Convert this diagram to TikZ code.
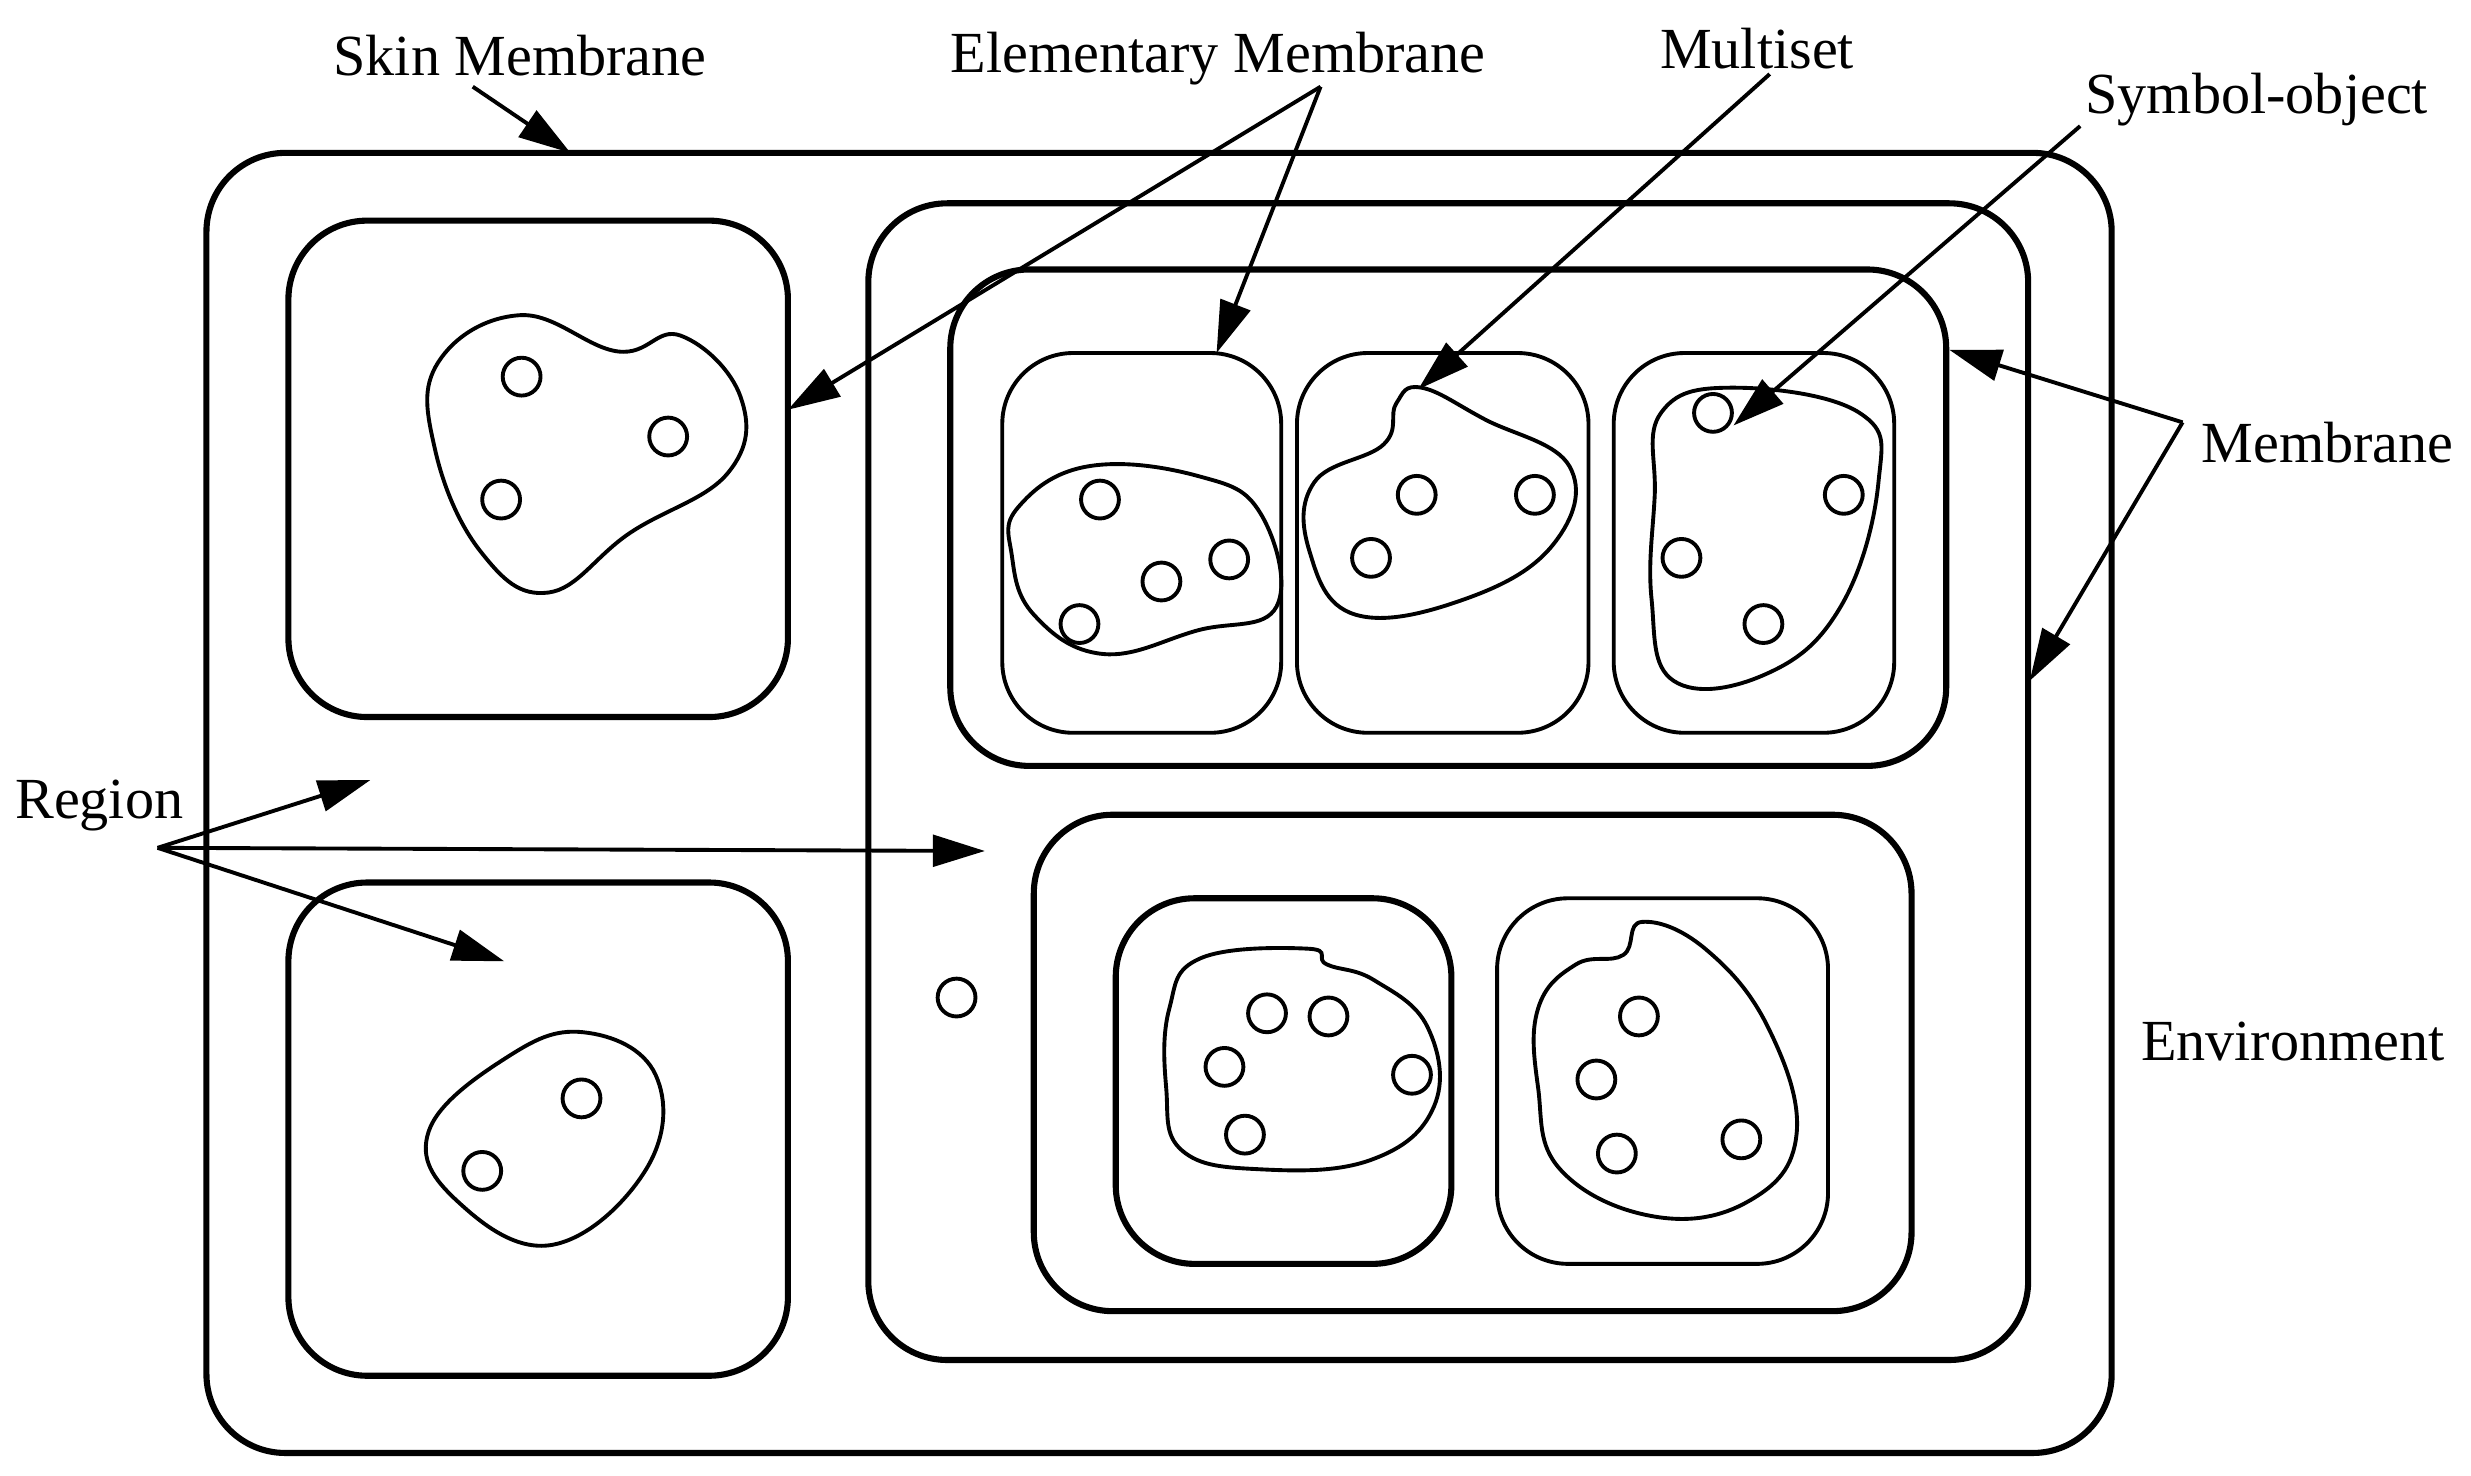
\documentclass[tikz,border=0pt]{standalone}
\usepackage{fontspec}
\setmainfont{Liberation Serif}
\usetikzlibrary{arrows.meta}
\begin{document}
\begin{tikzpicture}[x=0.01cm,y=-0.01cm,
  thickbox/.style={line width=1.1pt,rounded corners=0.5cm},
  thinbox/.style={line width=0.7pt,rounded corners=0.45cm},
  blob/.style={line width=0.7pt},
  obj/.style={circle,draw,line width=0.7pt,minimum size=0.24cm,inner sep=0pt},
  lbl/.style={font=\fontsize{10.5}{12}\selectfont,inner sep=1pt},
  arr/.style={line width=0.7pt,-{Triangle[length=0.33cm,width=0.2cm]}}]
\useasboundingbox (0,0) rectangle (1568,936);
% membranes
\draw[thickbox] (131,97) rectangle (1340,922);
\draw[thickbox] (183,140) rectangle (500,455);
\draw[thickbox] (183,560) rectangle (500,873);
\draw[thickbox] (551,129) rectangle (1287,863);
\draw[thickbox] (603,171) rectangle (1235,486);
\draw[thinbox] (636,224) rectangle (813,465);
\draw[thinbox] (823,224) rectangle (1008,465);
\draw[thinbox] (1024,224) rectangle (1202,465);
\draw[thickbox] (656,517) rectangle (1213,832);
\draw[thickbox] (708,570) rectangle (921,802);
\draw[thinbox] (950,570) rectangle (1160,802);
% blobs
\draw[blob] plot[smooth cycle,tension=0.7] coordinates {(278,230) (330,200) (392,223) (432,213) (470,252) (462,300) (400,338) (348,376) (305,350) (276,285)};
\draw[blob] plot[smooth cycle,tension=0.7] coordinates {(272,718) (320,672) (370,655) (416,682) (410,742) (350,790) (290,762)};
\draw[blob] plot[smooth cycle,tension=0.7] coordinates {(646,322) (690,296) (760,302) (800,326) (810,385) (760,400) (700,415) (656,390) (642,352)};
\draw[blob] plot[smooth cycle,tension=0.7] coordinates {(834,306) (878,282) (886,256) (902,246) (942,266) (996,296) (986,345) (930,380) (860,390) (831,350)};
\draw[blob] plot[smooth cycle,tension=0.7] coordinates {(1054,262) (1100,246) (1180,262) (1192,306) (1168,385) (1120,428) (1062,432) (1048,380) (1050,315)};
\draw[blob] plot[smooth cycle,tension=0.7] coordinates {(742,640) (762,608) (830,602) (842,612) (872,622) (906,652) (910,702) (870,736) (800,742) (750,730) (740,690)};
\draw[blob] plot[smooth cycle,tension=0.7] coordinates {(976,640) (1000,612) (1030,606) (1042,585) (1082,602) (1122,652) (1140,720) (1110,762) (1050,772) (990,742) (976,690)};
% objects
\foreach \p [count=\i] in {(331,239),(424,277),(318,317),(369,697),(306,743),(698,317),(780,355),(737,369),(685,396),(899,314),(974,314),(870,354),(1087,262),(1170,314),(1067,354),(1119,396),(804,643),(843,645),(777,677),(896,682),(790,720),(1040,645),(1013,685),(1026,732),(1105,723),(607,633)}
  \node[obj] (o\i) at \p {};
% labels
\node[lbl] (skin) at (330,35) {Skin Membrane};
\node[lbl] (elem) at (773,37) {Elementary Membrane};
\node[lbl] (mult) at (1115,31) {Multiset};
\node[lbl] (sym) at (1432,63) {Symbol-object};
\node[lbl] (memb) at (1477,281) {Membrane};
\node[lbl] (reg) at (63,511) {Region};
\node[lbl] (env) at (1455,661) {Environment};
% arrow points
\coordinate (sA) at (300,55); \coordinate (sB) at (362,97);
\coordinate (eA) at (838,55); \coordinate (eB) at (500,260); \coordinate (eC) at (772,224);
\coordinate (mA) at (1123,47); \coordinate (mB) at (900,247);
\coordinate (yA) at (1320,80); \coordinate (yB) at (1100,270);
\coordinate (nA) at (1385,268); \coordinate (nB) at (1237,222); \coordinate (nC) at (1288,432);
\coordinate (rA) at (100,538); \coordinate (rB) at (235,495); \coordinate (rC) at (625,540); \coordinate (rD) at (320,610);
\draw[arr] (sA) -- (sB);
\draw[arr] (eA) -- (eB); \draw[arr] (eA) -- (eC);
\draw[arr] (mA) -- (mB);
\draw[arr] (yA) -- (yB);
\draw[arr] (nA) -- (nB); \draw[arr] (nA) -- (nC);
\draw[arr] (rA) -- (rB); \draw[arr] (rA) -- (rC); \draw[arr] (rA) -- (rD);
\end{tikzpicture}
\end{document}
